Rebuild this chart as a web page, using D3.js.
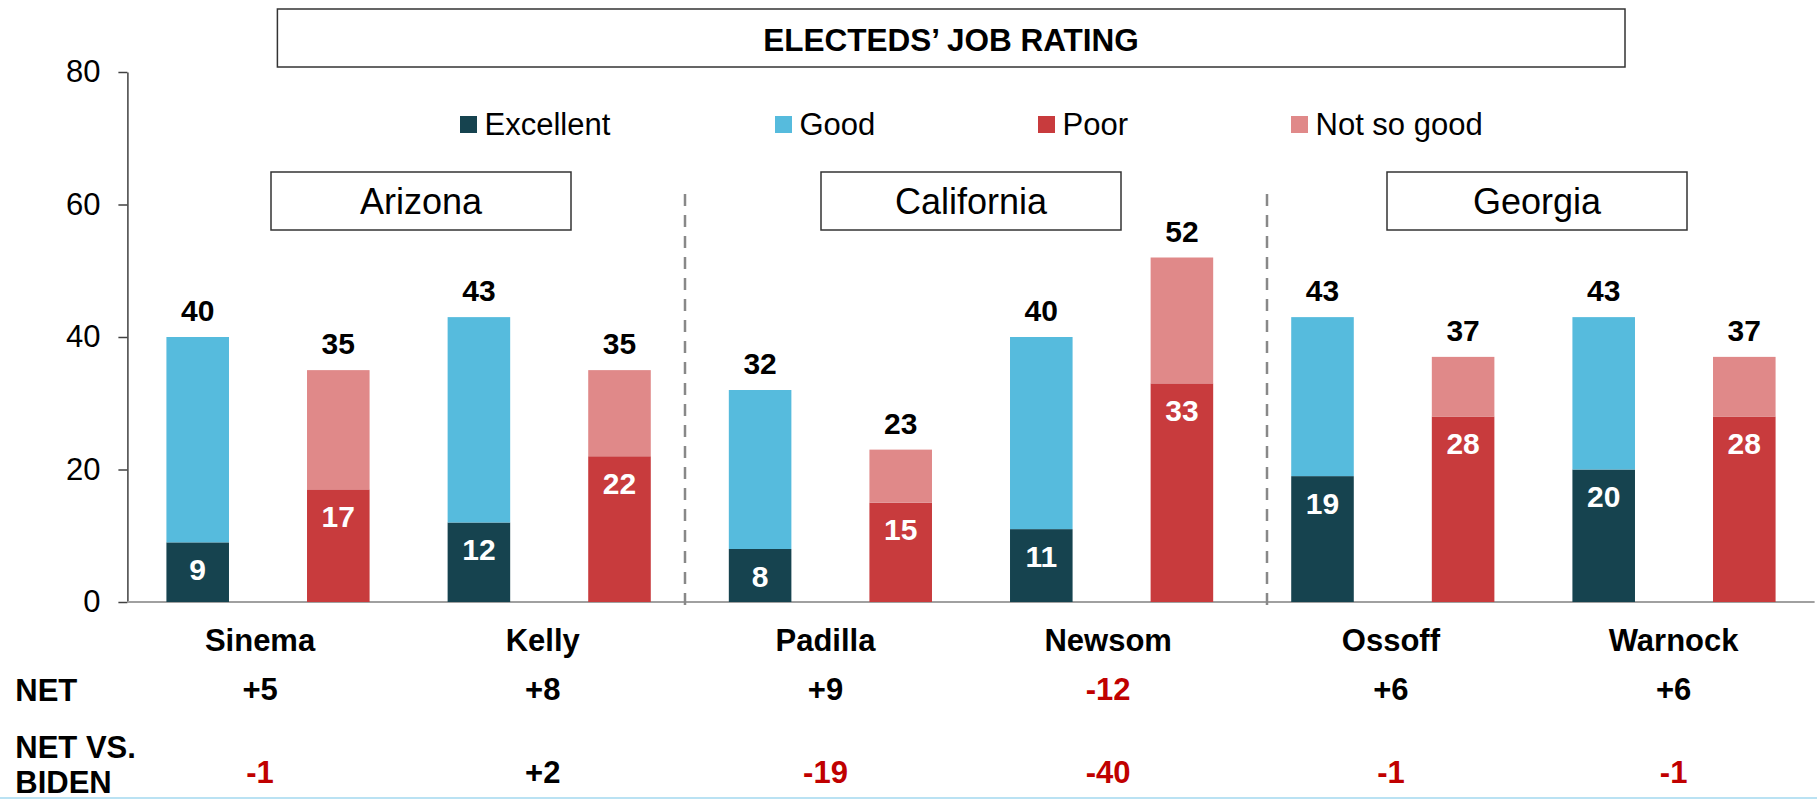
<!DOCTYPE html>
<html>
<head>
<meta charset="utf-8">
<script src="https://cdn.jsdelivr.net/npm/d3@7"></script>
<style>
  html, body { margin: 0; padding: 0; background: #fff; }
  svg { display: block; font-family: "Liberation Sans", Arial, sans-serif; }
</style>
</head>
<body>
<svg id="chart" width="1817" height="799"></svg>
<script>
// ---------------- DATA ----------------
const title = "ELECTEDS\u2019 JOB RATING";
const states = ["Arizona", "California", "Georgia"];
const people = ["Sinema", "Kelly", "Padilla", "Newsom", "Ossoff", "Warnock"];
const personState = ["Arizona", "Arizona", "California", "California", "Georgia", "Georgia"];
const excellent = [9, 12, 8, 11, 19, 20];
const good = [31, 31, 24, 29, 24, 23];
const poor = [17, 22, 15, 33, 28, 28];
const notSoGood = [18, 13, 8, 19, 9, 9];
const net = [5, 8, 9, -12, 6, 6];
const netVsBiden = [-1, 2, -19, -40, -1, -1];
const yTicks = [0, 20, 40, 60, 80];
const seriesNames = ["Excellent", "Good", "Poor", "Not so good"];
const rowLabels = ["NET", "NET VS.|BIDEN"];

// ---------------- STYLE / LAYOUT ----------------
const colors = { "Excellent": "#16434f", "Good": "#56bbdd", "Poor": "#c83b3d", "Not so good": "#e08989" };
const negColor = "#c00000";
const svg = d3.select("#chart");

function txt(parent, x, y, str, opts = {}) {
  return parent.append("text")
    .attr("x", x).attr("y", y)
    .attr("text-anchor", opts.anchor || "middle")
    .attr("font-size", opts.size || 31)
    .attr("font-weight", opts.weight || "normal")
    .attr("fill", opts.fill || "#000")
    .text(str);
}
const fmtSigned = v => (v > 0 ? "+" : "") + v;

// bar keys: each person has a positive stack and a negative stack
const barKeys = [];
people.forEach(p => { barKeys.push(p + "|pos"); barKeys.push(p + "|neg"); });

// scales
const plotLeft = 127.4, plotRight = 1814.6;
const y = d3.scaleLinear().domain([0, 80]).range([602, 72]);
const x = d3.scaleBand().domain(barKeys).range([plotLeft, plotRight])
  .paddingInner(0.555).paddingOuter(0.555 / 2);
const bw = x.bandwidth();
// the table rows underneath (names, NET) sit in their own columns
const xTable = d3.scaleBand().domain(people).range([118.7, 1815]).padding(0);

const stackData = [];
people.forEach((p, i) => {
  stackData.push({ i, x: x(p + "|pos"), segs: [["Excellent", excellent[i]], ["Good", good[i]]] });
  stackData.push({ i, x: x(p + "|neg"), segs: [["Poor", poor[i]], ["Not so good", notSoGood[i]]] });
});

// ---------------- TITLE ----------------
svg.append("rect").attr("x", 277.4).attr("y", 9).attr("width", 1347.6).attr("height", 58)
  .attr("fill", "#fff").attr("stroke", "#333").attr("stroke-width", 1.5);
txt(svg, 951, 50.5, title, { weight: "bold", size: 31.5 });

// ---------------- Y AXIS ----------------
const yAxis = svg.append("g").attr("transform", `translate(${plotLeft},0)`)
  .call(d3.axisLeft(y).tickValues(yTicks).tickSize(9).tickPadding(18).tickSizeOuter(0));
yAxis.select(".domain").attr("stroke", "#404040").attr("stroke-width", 1.5);
yAxis.selectAll(".tick line").attr("stroke", "#404040").attr("stroke-width", 1.5);
yAxis.selectAll(".tick text")
  .attr("font-family", "Liberation Sans, Arial, sans-serif")
  .attr("font-size", 31).attr("fill", "#000");

// x baseline
svg.append("line").attr("x1", plotLeft).attr("x2", plotRight).attr("y1", y(0)).attr("y2", y(0))
  .attr("stroke", "#a0a0a0").attr("stroke-width", 2);

// ---------------- LEGEND ----------------
const legendX = [460, 775, 1038, 1291];
seriesNames.forEach((s, k) => {
  svg.append("rect").attr("x", legendX[k]).attr("y", 116).attr("width", 17).attr("height", 17)
    .attr("fill", colors[s]);
  txt(svg, legendX[k] + 24.5, 135, s, { anchor: "start", size: 31 });
});

// ---------------- STATE BOXES & DIVIDERS ----------------
const stateBoxCenter = [421, 971, 1537];
states.forEach((st, k) => {
  const cx = stateBoxCenter[k];
  svg.append("rect").attr("x", cx - 150).attr("y", 172).attr("width", 300).attr("height", 58)
    .attr("fill", "#fff").attr("stroke", "#333").attr("stroke-width", 1.5);
  txt(svg, cx, 214, st, { size: 36 });
});
const dividerX = [685, 1267];
dividerX.forEach(dx => {
  svg.append("line").attr("x1", dx).attr("x2", dx).attr("y1", 194).attr("y2", 606)
    .attr("stroke", "#888").attr("stroke-width", 2.5).attr("stroke-dasharray", "12,9");
});

// ---------------- BARS ----------------
const gBars = svg.append("g");
stackData.forEach(d => {
  let base = 0;
  d.segs.forEach(([name, v], j) => {
    gBars.append("rect")
      .attr("x", d.x).attr("width", bw)
      .attr("y", y(base + v)).attr("height", y(base) - y(base + v))
      .attr("fill", colors[name]);
    if (j === 0) {
      txt(gBars, d.x + bw / 2, y(v) + 37.5, String(v), { weight: "bold", size: 30, fill: "#fff" });
    }
    base += v;
  });
  txt(gBars, d.x + bw / 2, y(base) - 16, String(base), { weight: "bold", size: 30 });
});

// ---------------- CATEGORY & NET ROWS ----------------
people.forEach((p, i) => {
  const cx = xTable(p) + xTable.bandwidth() / 2;
  txt(svg, cx, 651, p, { weight: "bold", size: 31 });
  txt(svg, cx, 700, fmtSigned(net[i]), { weight: "bold", size: 31, fill: net[i] < 0 ? negColor : "#000" });
  txt(svg, cx, 783, fmtSigned(netVsBiden[i]), { weight: "bold", size: 31, fill: netVsBiden[i] < 0 ? negColor : "#000" });
});
txt(svg, 15.3, 701, rowLabels[0], { anchor: "start", weight: "bold", size: 31 });
rowLabels[1].split("|").forEach((line, k) => {
  txt(svg, 15.3, 758 + k * 35, line, { anchor: "start", weight: "bold", size: 31 });
});

// bottom rule
svg.append("line").attr("x1", 0).attr("x2", 1817).attr("y1", 798).attr("y2", 798)
  .attr("stroke", "#a3d9ef").attr("stroke-width", 1.5);
</script>
</body>
</html>
